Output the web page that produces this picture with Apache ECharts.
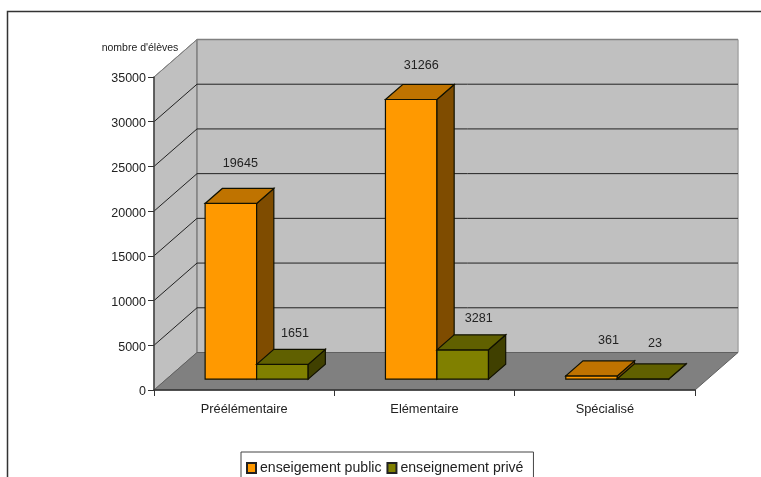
<!DOCTYPE html>
<html>
<head>
    <meta charset="utf-8">
    <title>ECharts</title>
    <script src="https://cdn.jsdelivr.net/npm/echarts@6/dist/echarts.min.js"></script>
    <style>
        html, body { margin: 0; padding: 0; background: #fff; }
    </style>
</head>
<body>
    <div id="main" style="width: 761px;height:477px;"></div>
    <script type="text/javascript">
        var categories = ['Préélémentaire', 'Elémentaire', 'Spécialisé'];
        var publicValues = [19645, 31266, 361];
        var privateValues = [1651, 3281, 23];
        var valueTicks = [0, 5000, 10000, 15000, 20000, 25000, 30000, 35000];

        var FONT = '"Liberation Sans", Arial, sans-serif';
        // fake 3d: how far the back wall is pushed from the front plane, in px
        var DEPTH_X = 43;
        var DEPTH_Y = 37.5;
        // bars sit between these two fractions of the depth
        var BAR_FRONT = 0.29;
        var BAR_BACK = 0.69;
        var BAR_WIDTH = 1 / 3.5; // share of the category band

        var ORANGE = { front: '#ff9900', top: '#bf7300', side: '#7f4c00' };
        var OLIVE = { front: '#808000', top: '#606000', side: '#404000' };

        // label nudges from the front-top centre of each bar
        var publicLabelShift = [[9.5, -40], [10, -34], [17, -35]];
        var privateLabelShift = [[12.5, -31], [16, -31], [12, -35]];

        function poly(points, fill, stroke, width) {
            return {
                type: 'polygon',
                shape: { points: points },
                style: { fill: fill, stroke: stroke || 'none', lineWidth: width || 0 }
            };
        }

        function segment(x1, y1, x2, y2, color, width) {
            return {
                type: 'line',
                shape: { x1: x1, y1: y1, x2: x2, y2: y2 },
                style: { stroke: color, lineWidth: width }
            };
        }

        // one box per category, offset sideways by slot (0 = left bar, 1 = right bar)
        function barRenderer(slot, colors, shifts) {
            return function (params, api) {
                var idx = api.value(0);
                var value = api.value(1);
                var band = api.size([1, 0])[0];
                var w = band * BAR_WIDTH;
                var base = api.coord([idx, 0]);
                var topPt = api.coord([idx, value]);
                var ox = DEPTH_X * BAR_FRONT;
                var oy = DEPTH_Y * BAR_FRONT;
                var dx = DEPTH_X * (BAR_BACK - BAR_FRONT);
                var dy = DEPTH_Y * (BAR_BACK - BAR_FRONT);
                var x0 = base[0] + ox - w + slot * w;
                var x1 = x0 + w;
                var yb = base[1] - oy;
                var yt = topPt[1] - oy;
                var line = '#111100';
                var shift = shifts[params.dataIndex];
                return {
                    type: 'group',
                    children: [
                        poly([[x0, yb], [x1, yb], [x1, yt], [x0, yt]], colors.front, line, 1.2),
                        poly([[x1, yb], [x1 + dx, yb - dy], [x1 + dx, yt - dy], [x1, yt]], colors.side, line, 1.2),
                        poly([[x0, yt], [x1, yt], [x1 + dx, yt - dy], [x0 + dx, yt - dy]], colors.top, line, 1.2),
                        {
                            type: 'text',
                            style: {
                                text: String(value),
                                x: (x0 + x1) / 2 + shift[0],
                                y: yt + shift[1],
                                fill: '#222',
                                font: '12.6px ' + FONT,
                                align: 'center',
                                verticalAlign: 'middle'
                            }
                        }
                    ]
                };
            };
        }

        var myChart = echarts.init(document.getElementById('main'));

        var option = {
            animation: false,
            backgroundColor: '#fff',
            textStyle: { fontFamily: FONT },
            graphic: [{
                type: 'rect',
                silent: true,
                shape: { x: 7.5, y: 11.5, width: 800, height: 520 },
                style: { fill: 'none', stroke: '#333', lineWidth: 1.5 }
            }],
            legend: {
                left: 241,
                top: 452,
                padding: [9, 10, 30, 5],
                itemWidth: 9,
                itemHeight: 10,
                itemGap: 5,
                borderColor: '#444',
                borderWidth: 1,
                icon: 'rect',
                selectedMode: false,
                textStyle: { fontFamily: FONT, fontSize: 14.1, color: '#222', padding: [0, 0, 0, -1] },
                data: ['enseigement public', 'enseignement privé']
            },
            grid: { left: 154, top: 77, width: 541, height: 313, containLabel: false },
            xAxis: {
                type: 'category',
                data: categories,
                axisTick: { show: true, length: 6, lineStyle: { color: '#333' } },
                axisLine: { lineStyle: { color: '#333', width: 1.5 } },
                axisLabel: { color: '#222', fontSize: 12.8, fontFamily: FONT, margin: 13 }
            },
            yAxis: {
                type: 'value',
                min: 0,
                max: 35000,
                interval: 5000,
                name: "nombre d'élèves",
                nameLocation: 'end',
                nameGap: 23,
                nameTextStyle: { color: '#222', fontSize: 10.5, fontFamily: FONT, align: 'center', padding: [0, 28, 0, 0] },
                axisLine: { show: true, lineStyle: { color: '#444', width: 1.5 } },
                axisTick: { show: true, length: 6, lineStyle: { color: '#333' } },
                axisLabel: {
                    color: '#222', fontSize: 12.5, fontFamily: FONT, margin: 8,
                    // small line box hung from the tick pushes the digits down about 2px
                    verticalAlign: 'top', lineHeight: 4,
                    formatter: function (v) { return valueTicks.indexOf(v) >= 0 ? String(v) : ''; }
                },
                splitLine: { show: false }
            },
            series: [
                {
                    // walls and floor, drawn once from the grid rect
                    name: 'walls',
                    type: 'custom',
                    z: -2,
                    silent: true,
                    data: [[0, 0]],
                    encode: { x: 0, y: 1 },
                    renderItem: function (params, api) {
                        var c = params.coordSys;
                        var l = c.x, r = c.x + c.width, t = c.y, b = c.y + c.height;
                        var bl = l + DEPTH_X, br = r + DEPTH_X, bt = t - DEPTH_Y, bb = b - DEPTH_Y;
                        return {
                            type: 'group',
                            children: [
                                poly([[l, b], [l, t], [bl, bt], [bl, bb]], '#c0c0c0', '#808080', 1),
                                poly([[bl, bb], [bl, bt], [br, bt], [br, bb]], '#c0c0c0'),
                                segment(br, bt, br, bb, '#a6a6a6', 1.5),
                                segment(bl, bt, bl, bb, '#808080', 1.5),
                                poly([[l, b], [r, b], [br, bb], [bl, bb]], '#808080', '#606060', 1)
                            ]
                        };
                    }
                },
                {
                    // gridlines run along the left wall then across the back wall
                    name: 'gridlines',
                    type: 'custom',
                    z: -1,
                    silent: true,
                    data: valueTicks.slice(1).map(function (v) { return [0, v]; }),
                    encode: { x: 0, y: 1 },
                    renderItem: function (params, api) {
                        var c = params.coordSys;
                        var v = api.value(1);
                        var y = api.coord([0, v])[1];
                        var l = c.x, r = c.x + c.width;
                        var isTop = v === 35000;
                        return {
                            type: 'group',
                            children: [
                                segment(l, y, l + DEPTH_X, y - DEPTH_Y, isTop ? '#808080' : '#222', 1),
                                segment(l + DEPTH_X, y - DEPTH_Y, r + DEPTH_X, y - DEPTH_Y, isTop ? '#808080' : '#222', isTop ? 1.5 : 1)
                            ]
                        };
                    }
                },
                {
                    name: 'enseigement public',
                    type: 'custom',
                    silent: true,
                    itemStyle: { color: ORANGE.front, borderColor: '#222', borderWidth: 1 },
                    data: publicValues.map(function (v, i) { return [i, v]; }),
                    encode: { x: 0, y: 1 },
                    renderItem: barRenderer(0, ORANGE, publicLabelShift)
                },
                {
                    name: 'enseignement privé',
                    type: 'custom',
                    silent: true,
                    itemStyle: { color: OLIVE.front, borderColor: '#222', borderWidth: 1 },
                    data: privateValues.map(function (v, i) { return [i, v]; }),
                    encode: { x: 0, y: 1 },
                    renderItem: barRenderer(1, OLIVE, privateLabelShift)
                }
            ]
        };

        myChart.setOption(option);
    </script>
</body>
</html>
